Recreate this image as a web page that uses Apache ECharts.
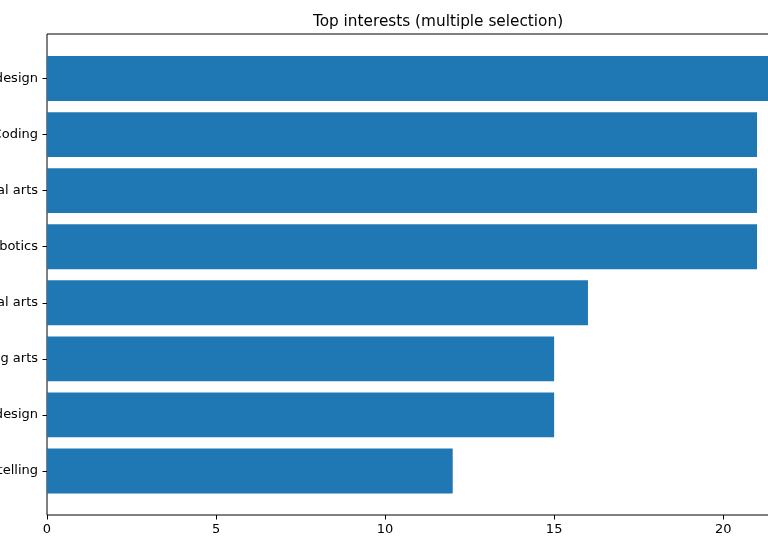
<!DOCTYPE html>
<html>
<head>
<meta charset="utf-8">
<script src="https://cdn.jsdelivr.net/npm/echarts@6/dist/echarts.min.js"></script>
<style>html,body{margin:0;padding:0;background:#fff;}#c{width:768px;height:550px;}</style>
</head>
<body>
<div id="c"></div>
<script>
const categories = ["Game design", "Coding", "Digital arts", "Robotics", "Visual arts", "Performing arts", "Graphic design", "Storytelling"];
const counts = [22, 21, 21, 21, 16, 15, 15, 12];
const xTicks = [0, 5, 10, 15, 20];
const titleText = "Top interests (multiple selection)";

const xMax = Math.max(...counts) * 1.05;
const font = "DejaVu Sans";
const chart = echarts.init(document.getElementById('c'), null, {renderer: 'canvas'});
chart.setOption({
  animation: false,
  backgroundColor: '#fff',
  title: {
    text: titleText, left: 433, top: 10, textAlign: 'center',
    textStyle: {fontFamily: font, fontSize: 15.3, fontWeight: 'normal', color: '#000'}
  },
  grid: [
    {left: 47, top: 34, width: 781, height: 481, show: true, borderColor: '#000', borderWidth: 1, backgroundColor: 'transparent', containLabel: false, outerBoundsMode: 'none'},
    {left: 47, top: 50.5, width: 781, height: 448.5, containLabel: false, outerBoundsMode: 'none'}
  ],
  xAxis: [
    {gridIndex: 0, type: 'value', min: 0, max: xMax, interval: 5,
     axisLine: {show: false}, splitLine: {show: false},
     axisTick: {show: true, length: 4.5, lineStyle: {color: '#000'}},
     axisLabel: {margin: 8, fontFamily: font, fontSize: 13, color: '#000', showMaxLabel: false,
       formatter: v => xTicks.includes(v) ? String(v) : ''}},
    {gridIndex: 1, type: 'value', min: 0, max: xMax, show: false}
  ],
  yAxis: [
    {gridIndex: 0, type: 'value', min: 0, max: 1, show: false},
    {gridIndex: 1, type: 'category', data: categories, inverse: true,
     axisLine: {show: false}, splitLine: {show: false},
     axisTick: {show: true, alignWithLabel: true, length: 4.5, lineStyle: {color: '#000'}},
     axisLabel: {margin: 9, fontFamily: font, fontSize: 13, color: '#000', padding: [3, 0, 0, 0]}}
  ],
  series: [{
    type: 'bar', xAxisIndex: 1, yAxisIndex: 1, data: counts, barWidth: '80%',
    itemStyle: {color: '#1f77b4'}, silent: true
  }]
});
</script>
</body>
</html>
